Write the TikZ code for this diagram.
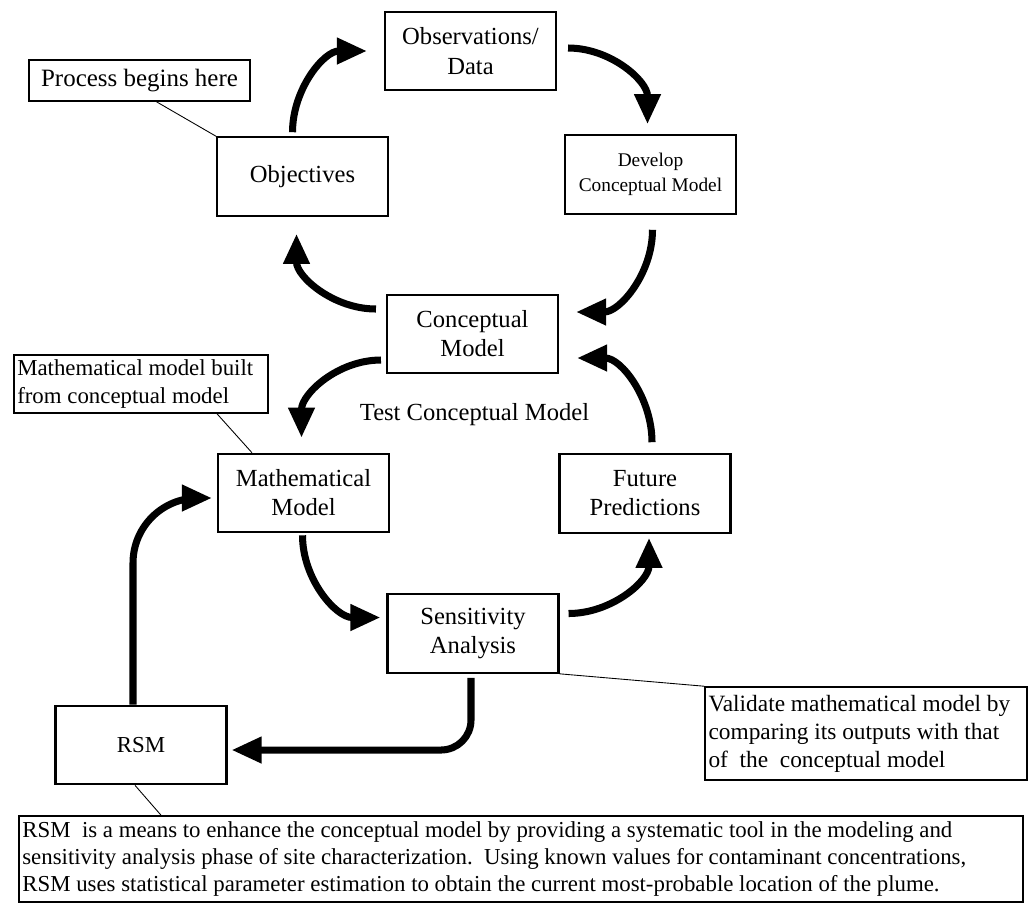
\documentclass[tikz,border=0pt]{standalone}
\usepackage{fontspec}
\setmainfont{Liberation Serif}
\usepackage{tikz}
\usetikzlibrary{positioning, calc, arrows.meta}

\begin{document}
\begin{tikzpicture}[
            x=0.02cm, y=0.02cm,
            align=center,
            box/.style={rectangle, draw=black, fill=white, minimum width=3.42cm, minimum height=1.57cm, line width=1.2pt, font=\fontsize{14}{16.5}\selectfont},
            notebox/.style={rectangle, draw=black, fill=white, line width=0.9pt, inner sep=2pt, align=flush left, font=\fontsize{13.3}{16}\selectfont},
            flow/.style={-{Triangle[length=0.6cm, width=0.5cm]}, line width=4pt},
            leader/.style={line width=0.5pt}
        ]
            \useasboundingbox (0,0) rectangle (1033,-907);

            % Nodes
            \node[box, font=\fontsize{14}{17}\selectfont] (obs) at (470.5,-51) {Observations/\\Data};
            \node[box] (obj) at (302.5,-176.5) {Objectives};
            \node[box, font=\fontsize{11}{14}\selectfont] (dev) at (650.5,-174.5) {Develop\\Conceptual Model};
            \node[box] (con) at (472.5,-334) {Conceptual\\Model};
            \node[box] (math) at (303.5,-493) {Mathematical\\Model};
            \node[box] (fut) at (645,-493.5) {Future\\Predictions};
            \node[box] (sens) at (473,-633.5) {Sensitivity\\Analysis};
            \node[box, font=\fontsize{13}{16}\selectfont] (rsm) at (141,-745) {RSM};
            \node[font=\fontsize{14}{16.5}\selectfont] (test) at (474.5,-415) {Test Conceptual Model};

            % Notes
            \node[notebox, align=center, minimum width=4.42cm, minimum height=0.82cm, font=\fontsize{14.2}{16}\selectfont] (begin) at (139.5,-80.5) {Process begins here};
            \node[notebox, text width=4.95cm, minimum height=1.16cm, font=\fontsize{13}{15.5}\selectfont] (built) at (141,-384) {Mathematical model built\\from conceptual model};
            \node[notebox, text width=6.3cm, minimum height=1.86cm] (valid) at (866,-733.5) {Validate mathematical model by\\comparing its outputs with that\\of\ \ the\ \ conceptual model};
            \node[notebox, text width=19.95cm, minimum height=1.72cm, font=\fontsize{13}{15.3}\selectfont] (note) at (521,-859) {RSM\ \ is a means to enhance the conceptual model by providing a systematic tool in the modeling and\\sensitivity analysis phase of site characterization.\ \ Using known values for contaminant concentrations,\\RSM uses statistical parameter estimation to obtain the current most-probable location of the plume.};

            % Cycle arrows
            \draw[flow] ($(obj.north)+(-10,4)$) to[out=90, in=180] ($(obs.west)+(-17,0)$);
            \draw[flow] ($(obs.east)+(11,3)$) to[out=0, in=90] ($(dev.north)+(-3,10)$);
            \draw[flow] ($(dev.south)+(2,-15)$) to[out=270, in=0] ($(con.east)+(17,22)$);
            \draw[flow] ($(con.west)+(-10,25)$) to[out=180, in=270] ($(obj.south)+(-6,-17)$);
            \draw[flow] ($(con.west)+(-5,-26)$) to[out=180, in=90] ($(math.north)+(-2,15)$);
            \draw[flow] ($(fut.north)+(7,11)$) to[out=90, in=0] ($(con.east)+(18,-24)$);
            \draw[flow] ($(math.south)+(-1,-2)$) to[out=270, in=180] ($(sens.west)+(-6,16)$);
            \draw[flow] ($(sens.east)+(9,20)$) to[out=0, in=270] ($(fut.south)+(4,-4)$);

            % RSM loop
            \draw[flow, rounded corners=0.6cm] ($(sens.south)+(-2,-4)$) |- ($(rsm.east)+(4,-5)$);
            \draw[flow, rounded corners=1.3cm] ($(rsm.north)+(-8,0)$) |- ($(math.west)+(-5,-5)$);

            % Leaders
            \draw[leader] ($(begin.south)+(17,0)$) -- (obj.north west);
            \draw[leader] ($(built.south east)+(-52,0)$) -- ($(math.north west)+(35,0)$);
            \draw[leader] (sens.south east) -- (valid.north west);
            \draw[leader] ($(rsm.south)+(-6,0)$) -- ($(note.north west)+(143,0)$);
        \end{tikzpicture}
\end{document}
